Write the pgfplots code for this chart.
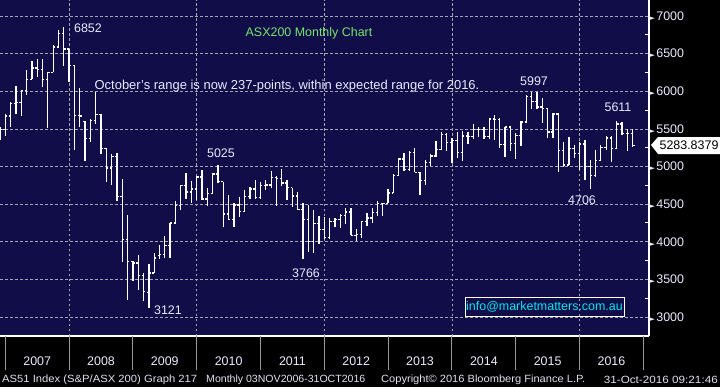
\documentclass[border=0pt]{standalone}
\usepackage{fontspec}
\setmainfont{Liberation Sans}
\newfontfamily\dejavu{DejaVu Sans}
\usepackage{pgfplots}
\usepackage{pgfplotstable}
\pgfplotsset{compat=1.18}
\definecolor{bgnavy}{RGB}{16,13,72}
\definecolor{gridc}{RGB}{165,165,175}
\definecolor{labc}{RGB}{235,235,255}
\definecolor{titlegreen}{RGB}{120,230,110}
\definecolor{mailcyan}{RGB}{0,230,240}
\definecolor{footc}{RGB}{225,225,240}
\pgfplotstableread{
x O H L C
-1 5380 5520 5350 5490
0 5490 5700 5400 5670
1 5670 5860 5530 5840
2 5840 6075 5700 5850
3 5850 6010 5670 6010
4 6010 6285 5945 6160
5 6160 6400 6160 6310
6 6310 6430 6190 6290
7 6290 6430 6060 6155
8 6155 6255 5515 6250
9 6250 6610 6250 6590
10 6590 6810 6580 6770
11 6770 6852 6330 6560
12 6560 6560 6120 6340
13 6340 6345 5220 5680
14 5680 6045 5520 5670
15 5600 5600 5075 5370
16 5370 5630 5330 5610
17 5610 5990 5570 5690
18 5690 5700 5170 5240
19 5240 5250 4800 4980
20 4980 5160 4760 5135
21 5135 5180 4540 4600
22 4600 4835 3727 4030
23 4030 4350 3220 3740
24 3740 3745 3480 3720
25 3720 3830 3355 3550
26 3550 3580 3210 3340
27 3330 3710 3121 3585
28 3585 3850 3580 3785
29 3815 3960 3770 3830
30 3830 4080 3785 3950
31 3950 4250 3780 4250
32 4250 4540 4240 4480
33 4480 4760 4420 4745
34 4745 4915 4575 4660
35 4660 4805 4515 4700
36 4700 4880 4560 4860
37 4860 4960 4560 4570
38 4570 4715 4480 4640
39 4640 4915 4630 4900
40 4900 5025 4790 4800
41 4800 4800 4190 4370
42 4370 4620 4290 4300
43 4300 4510 4200 4490
44 4490 4600 4330 4405
45 4405 4690 4400 4600
46 4600 4730 4570 4700
47 4700 4815 4575 4585
48 4585 4790 4575 4745
49 4745 4815 4690 4755
50 4755 4940 4720 4850
51 4850 4870 4480 4840
52 4840 4970 4740 4780
53 4780 4820 4560 4720
54 4720 4720 4460 4610
55 4610 4665 4420 4430
56 4430 4510 3766 4300
57 4300 4490 3870 4005
58 4005 4425 3850 4245
59 4245 4345 3975 4165
60 4165 4335 4050 4055
61 4055 4320 4040 4265
62 4265 4320 4190 4300
63 4300 4365 4180 4350
64 4350 4455 4230 4395
65 4395 4455 4085 4085
66 4085 4175 4010 4095
67 4095 4270 4050 4270
68 4270 4380 4205 4318
69 4318 4450 4250 4385
70 4385 4545 4345 4510
71 4510 4520 4340 4510
72 4510 4705 4510 4650
73 4650 4905 4650 4880
74 4880 5113 4880 5100
75 5100 5180 4940 4965
76 4965 5200 4940 5190
77 5190 5250 4925 4925
78 4925 4930 4620 4815
79 4815 5090 4760 5055
80 5055 5170 5010 5140
81 5140 5335 5125 5230
82 5230 5465 5220 5430
83 5430 5450 5210 5320
84 5320 5380 5045 5350
85 5350 5460 5110 5190
86 5190 5470 5070 5405
87 5405 5465 5300 5395
88 5395 5560 5360 5490
89 5490 5525 5390 5495
90 5495 5520 5370 5395
91 5395 5645 5370 5632
92 5632 5690 5355 5625
93 5625 5640 5240 5290
94 5290 5530 5130 5525
95 5525 5540 5210 5310
96 5310 5450 5100 5410
97 5410 5610 5270 5590
98 5590 5950 5580 5930
99 5930 5985 5760 5860
100 5860 5997 5760 5790
101 5790 5910 5580 5775
102 5775 5780 5380 5460
103 5460 5710 5380 5700
104 5700 5710 4930 5210
105 5210 5330 4990 5020
106 5020 5390 5020 5240
107 5240 5290 5110 5170
108 5170 5330 4950 5300
109 5300 5355 4820 5005
110 5005 5090 4706 4880
111 4880 5220 4860 5080
112 5080 5290 5070 5255
113 5255 5400 5215 5380
114 5380 5400 5060 5235
115 5235 5611 5230 5565
116 5565 5590 5420 5435
117 5435 5500 5200 5440
118 5440 5502 5265 5284
}\ohlc
\begin{document}
\begin{tikzpicture}[x=1bp,y=1bp]
\fill[black] (0,0) rectangle (720,387);
\begin{axis}[at={(0bp,51bp)}, anchor=south west, scale only axis,
  width=649bp, height=336bp,
  xmin=-0.997, xmax=121.06, ymin=2748, ymax=7213,
  axis background/.style={fill=bgnavy},
  axis x line*=bottom, axis y line*=right,
  axis line style={-, white, line width=1.5bp},
  every outer x axis line/.append style={-},
  every outer y axis line/.append style={-},
  xtick={6,18,30,42,54,66,78,90,102,114},
  xticklabels={2007,2008,2009,2010,2011,2012,2013,2014,2015,2016},
  extra x ticks={12,36,60,84,108}, extra x tick labels={},
  extra x tick style={grid=major},
  ytick={3000,3500,4000,4500,5000,5500,6000,6500,7000},
  minor y tick num=1,
  major tick length=0pt, minor tick length=4bp,
  tick style={white, line width=1bp},
  ymajorgrids,
  grid style={gridc, line width=0.8bp, dash pattern=on 2.5bp off 2.5bp},
  /pgf/number format/1000 sep={},
  /pgf/number format/assume math mode=true,
  tick label style={font=\fontsize{12.5}{14}\selectfont, text=labc},
  xticklabel style={anchor=center, yshift=-25bp},
  yticklabel style={anchor=west, xshift=-3bp},
  yticklabel={{\dejavu\fontsize{7}{8}\selectfont ►}\hspace{1.5bp}\pgfmathprintnumber{\tick}},
]
\addplot[draw=none, mark=none, error bars/.cd, y dir=both, y explicit,
  error mark=none, error bar style={draw=white, solid, line width=1.3bp}]
  table[x=x, y=C, y error plus expr=\thisrow{H}-\thisrow{C},
        y error minus expr=\thisrow{C}-\thisrow{L}] {\ohlc};
\addplot[draw=none, mark=none, error bars/.cd, x dir=minus, x fixed=0.35,
  error mark=none, error bar style={draw=white, solid, line width=1.3bp}]
  table[x=x, y=O] {\ohlc};
\addplot[draw=none, mark=none, error bars/.cd, x dir=plus, x fixed=0.35,
  error mark=none, error bar style={draw=white, solid, line width=1.3bp}]
  table[x=x, y=C] {\ohlc};
\end{axis}
% year tick lines below the plot
\foreach \i in {0,...,10}
  \draw[gray!80, line width=1bp] ({5.3+63.8*\i},51) -- ({5.3+63.8*\i},17);
% annotations
\begin{scope}[every node/.style={inner sep=0pt, font=\fontsize{12.5}{14}\selectfont, text=labc}]
\node at (88,359) {6852};
\node[text=titlegreen] at (309,354) {ASX200 Monthly Chart};
\node[font=\fontsize{13}{15}\selectfont] at (287,301) {October's range is now 237-points, within expected range for 2016.};
\node at (221,234) {5025};
\node at (168,77) {3121};
\node at (306,114) {3766};
\node at (534,306) {5997};
\node at (618,280) {5611};
\node at (582,187) {4706};
\draw[white, line width=1bp] (465,71) rectangle (624,90);
\node[text=mailcyan] at (544.5,80.5) {info@marketmatters.com.au};
% last price box
\fill[white] (651,242) -- (658,250) -- (720,250) -- (720,233) -- (658,233) -- cycle;
\node[text=black] at (689,241.5) {5283.8379};
\end{scope}
% footer
\begin{scope}[every node/.style={inner sep=0pt, font=\fontsize{10.5}{12}\selectfont, text=footc}]
\node[anchor=west] at (2,7) {\scalebox{1.075}[1]{AS51 Index (S\&P/ASX 200) Graph 217}};
\node[anchor=west] at (206,7) {\scalebox{1.01}[1]{Monthly 03NOV2006-31OCT2016}};
\node[anchor=west] at (381,7) {\scalebox{1.06}[1]{Copyright© 2016 Bloomberg Finance L.P.}};
\node[anchor=east] at (718,7) {\scalebox{1.12}[1]{31-Oct-2016 09:21:46}};
\end{scope}
\pgfresetboundingbox
\useasboundingbox (0,0) rectangle (720,387);
\end{tikzpicture}
\end{document}
